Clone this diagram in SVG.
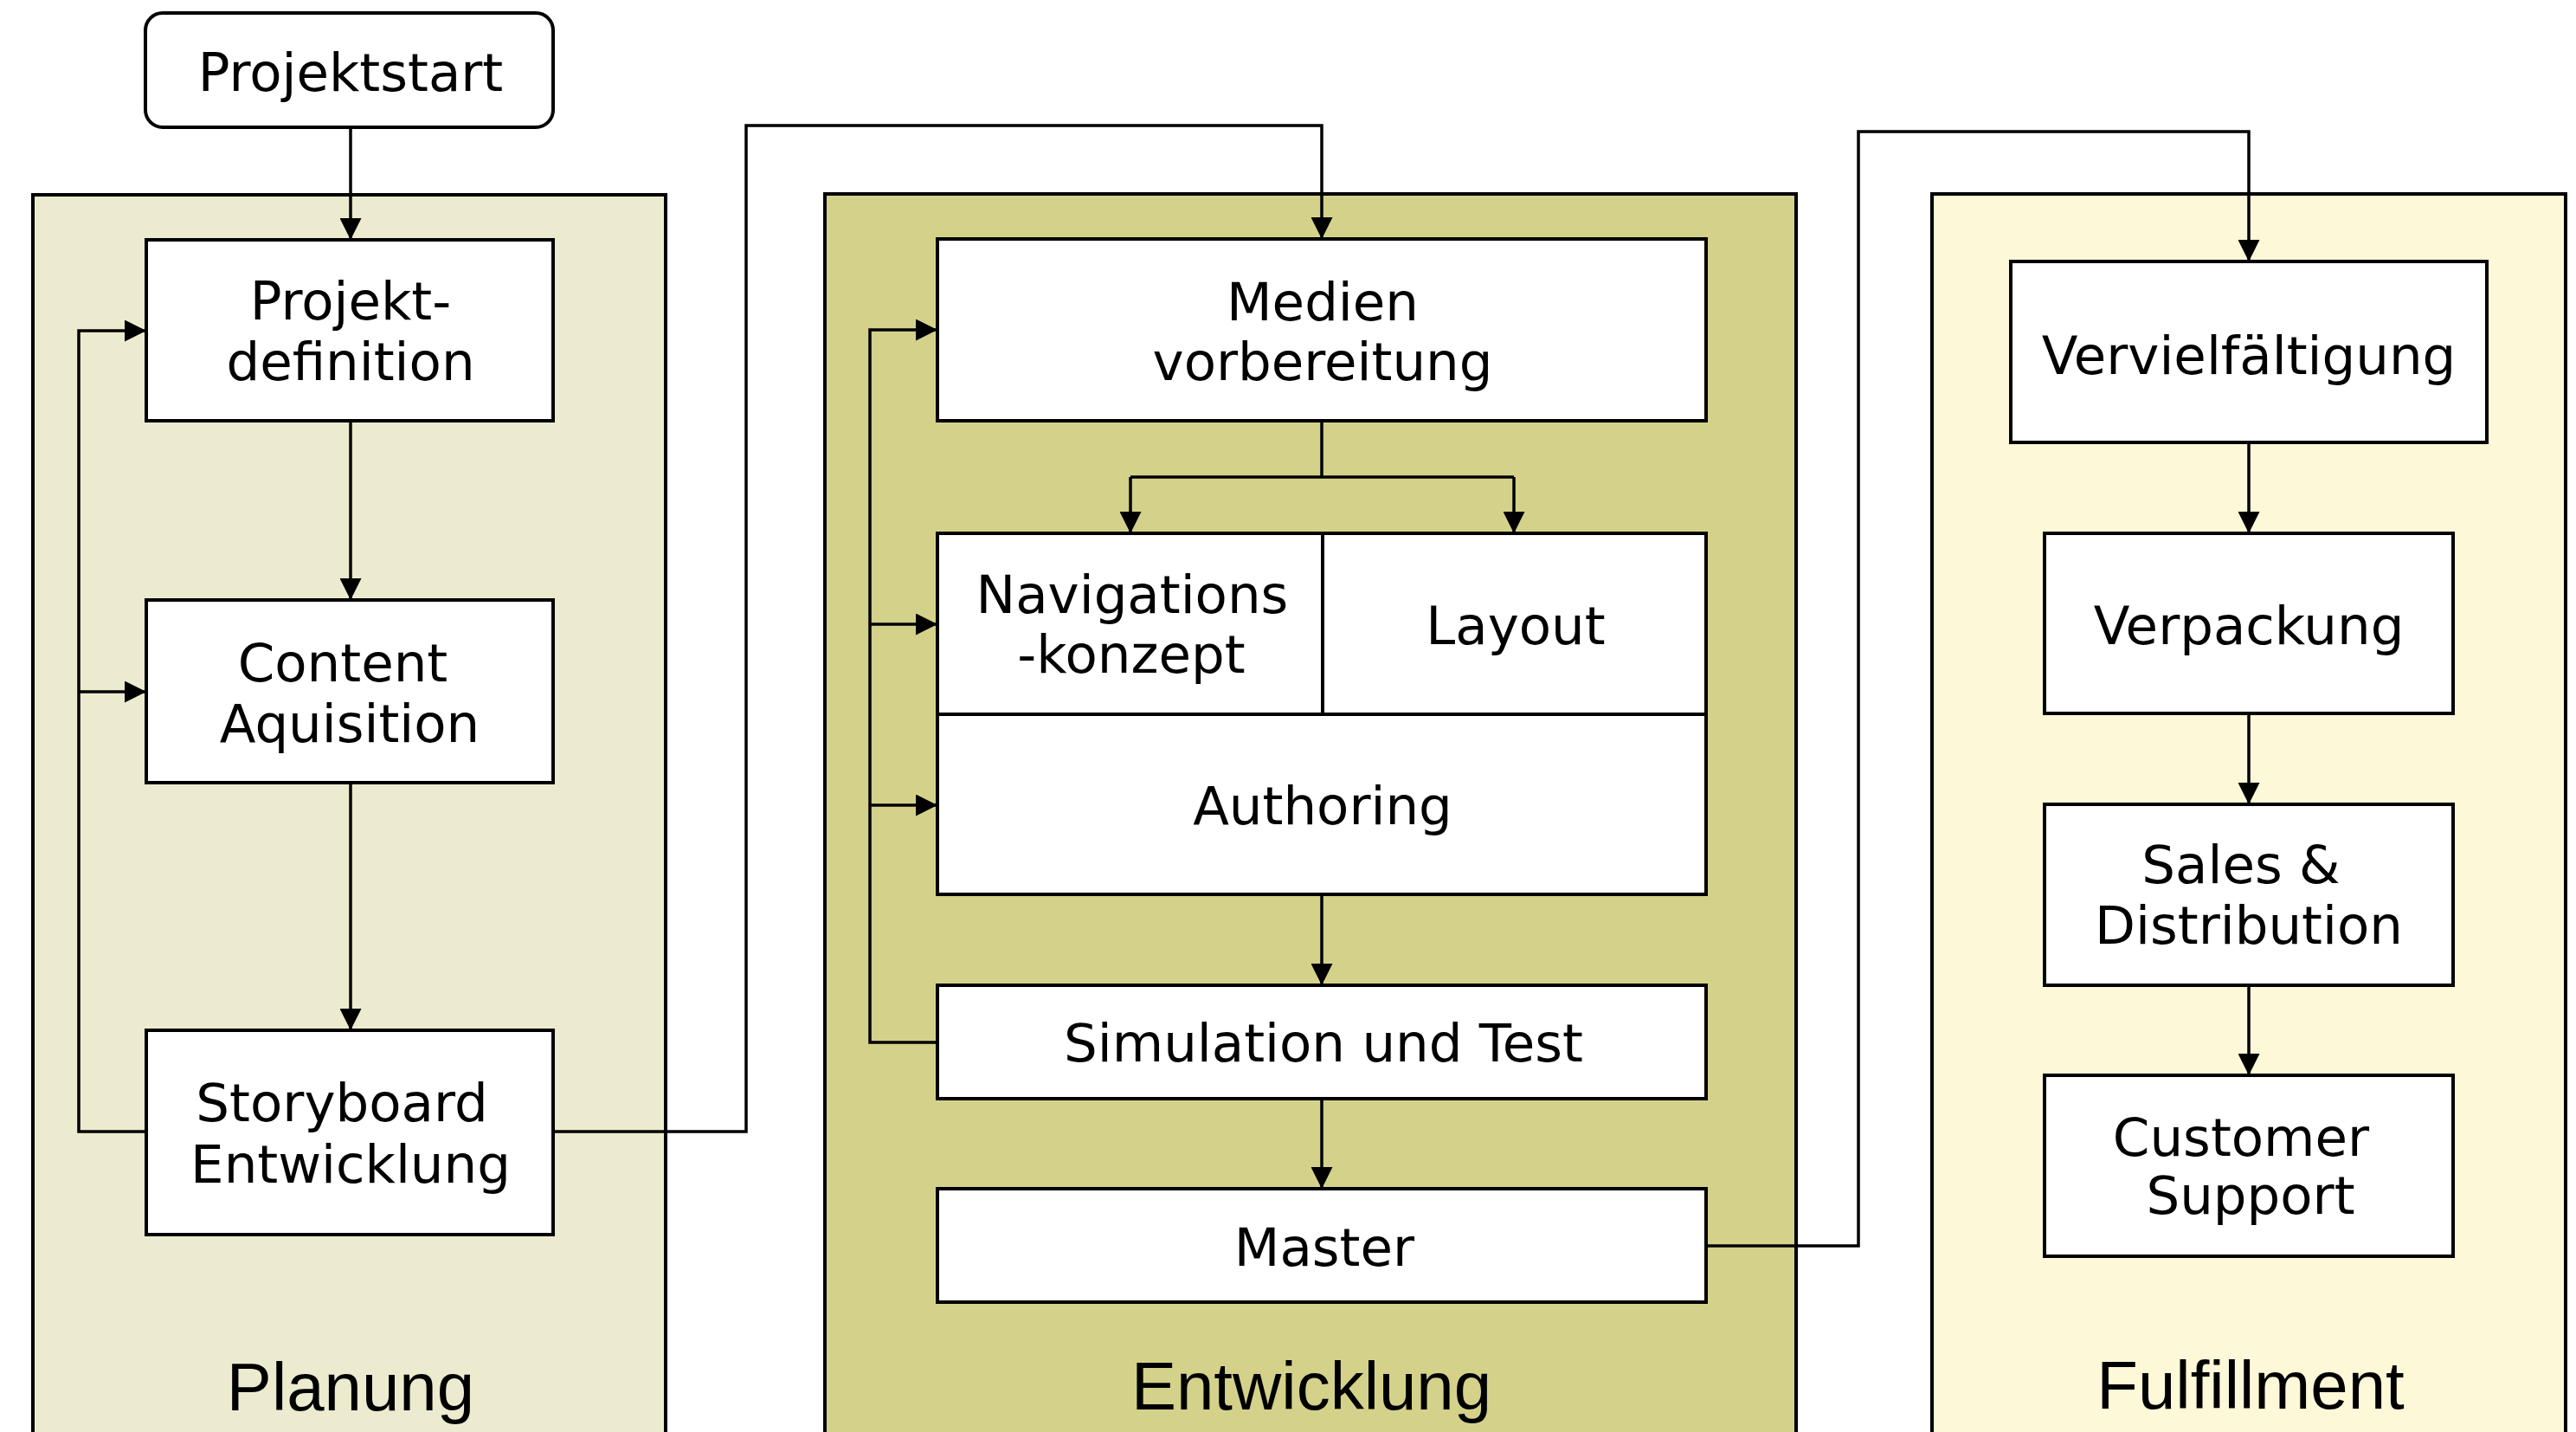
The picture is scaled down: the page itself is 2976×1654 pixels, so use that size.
<svg xmlns="http://www.w3.org/2000/svg" width="2976" height="1654" viewBox="0 0 2976 1654">
<style>
.panel{stroke:#000;stroke-width:4}
.box{fill:#fff;stroke:#000;stroke-width:4}
.t{font-family:"DejaVu Sans",Verdana,sans-serif;font-size:61px;fill:#000;text-anchor:middle}
.lbl{font-family:"Liberation Sans",Arial,sans-serif;font-size:78px;fill:#000;text-anchor:middle}
.c{fill:none;stroke:#000;stroke-width:3.5}
</style>
<defs>
<marker id="ah" markerUnits="userSpaceOnUse" viewBox="0 0 25 25" refX="25" refY="12.5" markerWidth="25" markerHeight="25" orient="auto">
<path d="M0,0 L25,12.5 L0,25 z" fill="#000"/>
</marker>
</defs>
<rect width="2976" height="1654" fill="#fff"/>
<g id="panel-planung">
<rect class="panel" x="38" y="225" width="731" height="1450" fill="#EDEBCF"/>
<text class="lbl" x="405" y="1629">Planung</text>
</g>
<g id="panel-entwicklung">
<rect class="panel" x="953" y="224" width="1122" height="1450" fill="#D4D28A"/>
<text class="lbl" x="1515" y="1628">Entwicklung</text>
</g>
<g id="panel-fulfillment">
<rect class="panel" x="2232" y="224" width="732" height="1450" fill="#FCF8D8"/>
<text class="lbl" x="2600" y="1627">Fulfillment</text>
</g>
<g id="connectors">
<path class="c" d="M405,147 V277" marker-end="url(#ah)"/>
<path class="c" d="M405,486 V693" marker-end="url(#ah)"/>
<path class="c" d="M405,904 V1190" marker-end="url(#ah)"/>
<path class="c" d="M169,1307 H91 V382 H169" marker-end="url(#ah)"/>
<path class="c" d="M91,799 H169" marker-end="url(#ah)"/>
<path class="c" d="M639,1307 H862 V145 H1527 V276" marker-end="url(#ah)"/>
<path class="c" d="M1527,486 V551"/>
<path class="c" d="M1306,551 H1749"/>
<path class="c" d="M1306,551 V616" marker-end="url(#ah)"/>
<path class="c" d="M1749,551 V616" marker-end="url(#ah)"/>
<path class="c" d="M1083,1204 H1005 V381 H1083" marker-end="url(#ah)"/>
<path class="c" d="M1005,721 H1083" marker-end="url(#ah)"/>
<path class="c" d="M1005,930 H1083" marker-end="url(#ah)"/>
<path class="c" d="M1527,1033 V1138" marker-end="url(#ah)"/>
<path class="c" d="M1527,1269 V1373" marker-end="url(#ah)"/>
<path class="c" d="M1971,1439 H2147 V152 H2598 V302" marker-end="url(#ah)"/>
<path class="c" d="M2598,511 V616" marker-end="url(#ah)"/>
<path class="c" d="M2598,824 V929" marker-end="url(#ah)"/>
<path class="c" d="M2598,1138 V1242" marker-end="url(#ah)"/>
</g>
<g id="projektstart">
<rect class="box" x="168" y="15" width="471" height="132" rx="20" ry="20"/>
<text class="t" x="405" y="105">Projektstart</text>
</g>
<g id="projektdefinition">
<rect class="box" x="169" y="277" width="470" height="209"/>
<text class="t" x="405" y="369">Projekt-</text>
<text class="t" x="405" y="439">definition</text>
</g>
<g id="content-aquisition">
<rect class="box" x="169" y="693" width="470" height="211"/>
<text class="t" x="396" y="787">Content</text>
<text class="t" x="404" y="857">Aquisition</text>
</g>
<g id="storyboard">
<rect class="box" x="169" y="1190" width="470" height="236"/>
<text class="t" x="395" y="1295">Storyboard</text>
<text class="t" x="405" y="1366">Entwicklung</text>
</g>
<g id="medienvorbereitung">
<rect class="box" x="1083" y="276" width="888" height="210"/>
<text class="t" x="1528" y="370">Medien</text>
<text class="t" x="1528" y="439">vorbereitung</text>
</g>
<g id="navigationskonzept">
<rect class="box" x="1083" y="616" width="445" height="209"/>
<text class="t" x="1308" y="708">Navigations</text>
<text class="t" x="1307" y="777">-konzept</text>
</g>
<g id="layout">
<rect class="box" x="1528" y="616" width="443" height="209"/>
<text class="t" x="1751" y="744">Layout</text>
</g>
<g id="authoring">
<rect class="box" x="1083" y="825" width="888" height="208"/>
<text class="t" x="1528" y="952">Authoring</text>
</g>
<g id="simulation">
<rect class="box" x="1083" y="1138" width="888" height="131"/>
<text class="t" x="1529" y="1226">Simulation und Test</text>
</g>
<g id="master">
<rect class="box" x="1083" y="1373" width="888" height="131"/>
<text class="t" x="1530" y="1462">Master</text>
</g>
<g id="vervielfaeltigung">
<rect class="box" x="2323" y="302" width="550" height="209"/>
<text class="t" x="2598" y="432">Vervielfältigung</text>
</g>
<g id="verpackung">
<rect class="box" x="2362" y="616" width="472" height="208"/>
<text class="t" x="2598" y="744">Verpackung</text>
</g>
<g id="sales">
<rect class="box" x="2362" y="929" width="472" height="209"/>
<text class="t" x="2589" y="1020">Sales &amp;</text>
<text class="t" x="2598" y="1090">Distribution</text>
</g>
<g id="customer-support">
<rect class="box" x="2362" y="1242" width="472" height="209"/>
<text class="t" x="2589" y="1335">Customer</text>
<text class="t" x="2600" y="1402">Support</text>
</g>
</svg>
